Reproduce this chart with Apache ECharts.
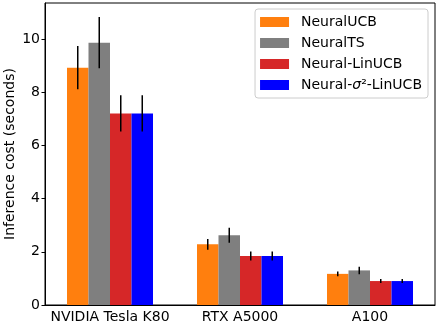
<!DOCTYPE html>
<html>
<head>
<meta charset="utf-8">
<script src="https://cdn.jsdelivr.net/npm/echarts@6/dist/echarts.min.js"></script>
<style>
  html, body { margin: 0; padding: 0; background: #fff; }
  #main { width: 439px; height: 329px; }
</style>
</head>
<body>
<div id="main"></div>
<script>
// data
var gpus = ['NVIDIA Tesla K80', 'RTX A5000', 'A100'];
var methods = ['NeuralUCB', 'NeuralTS', 'Neural-LinUCB', 'Neural-σ²-LinUCB'];
var colors = ['#ff7f0e', '#7f7f7f', '#d62728', '#0000ff'];

var neuralUCB = [8.92, 2.28, 1.17];
var neuralTS = [9.86, 2.62, 1.30];
var neuralLinUCB = [7.20, 1.84, 0.90];
var neuralSigmaLinUCB = [7.20, 1.84, 0.90];

var errUCB = [0.81, 0.20, 0.09];
var errTS = [0.96, 0.28, 0.14];
var errLinUCB = [0.68, 0.17, 0.075];
var errSigmaLinUCB = [0.68, 0.17, 0.075];

var yTicks = [0, 2, 4, 6, 8, 10];

var means = [neuralUCB, neuralTS, neuralLinUCB, neuralSigmaLinUCB];
var errs = [errUCB, errTS, errLinUCB, errSigmaLinUCB];

var myChart = echarts.init(document.getElementById('main'));
var barW = 21.5;
var font = 'DejaVu Sans';
var fs = 14;

var series = [];
methods.forEach(function (m, i) {
    series.push({
        name: m,
        type: 'bar',
        data: means[i],
        barWidth: barW,
        barGap: '0%',
        itemStyle: { color: colors[i] },
        z: 2
    });
});
// error bars, one custom series per method, drawn over the centre of each bar
methods.forEach(function (m, i) {
    var d = gpus.map(function (g, k) {
        return [k, means[i][k] - errs[i][k], means[i][k] + errs[i][k]];
    });
    series.push({
        type: 'custom',
        data: d,
        z: 5,
        silent: true,
        renderItem: function (params, api) {
            var lo = api.coord([api.value(0), api.value(1)]);
            var hi = api.coord([api.value(0), api.value(2)]);
            var off = (i - 1.5) * barW;
            return {
                type: 'line',
                shape: { x1: lo[0] + off, y1: lo[1], x2: hi[0] + off, y2: hi[1] },
                style: { stroke: '#000', lineWidth: 1.5 }
            };
        }
    });
});

option = {
    animation: false,
    textStyle: { fontFamily: font },
    grid: {
        left: 45, right: 4, top: 3, bottom: 24,
        containLabel: false,
        outerBoundsMode: 'none',
        show: true, borderColor: '#000', borderWidth: 1
    },
    legend: {
        data: methods,
        orient: 'vertical',
        right: 11, top: 9,
        icon: 'rect',
        itemWidth: 29, itemHeight: 10,
        itemGap: 7,
        padding: [6, 6, 6, 5],
        backgroundColor: '#fff',
        borderColor: '#ccc', borderWidth: 1, borderRadius: 3,
        textStyle: {
            fontFamily: font, fontSize: fs, color: '#000', padding: [0, 0, 0, 7],
            rich: { i: { fontFamily: font, fontSize: fs, fontStyle: 'italic', color: '#000' } }
        },
        formatter: function (name) {
            if (name === 'Neural-σ²-LinUCB') return 'Neural-{i|σ}²-LinUCB';
            return name;
        }
    },
    xAxis: {
        type: 'category',
        data: gpus,
        axisLine: { lineStyle: { color: '#000', width: 1 } },
        axisTick: { alignWithLabel: true, length: 3.5, inside: false, lineStyle: { color: '#000' } },
        axisLabel: { fontFamily: font, fontSize: fs, color: '#000', margin: 5, interval: 0 },
        splitLine: { show: false }
    },
    yAxis: {
        type: 'value',
        min: 0,
        max: 11.35,
        interval: 2,
        name: 'Inference cost (seconds)',
        nameLocation: 'middle',
        nameGap: 28,
        nameMoveOverlap: false,
        nameTextStyle: { fontFamily: font, fontSize: fs, color: '#000' },
        axisLine: { show: true, lineStyle: { color: '#000', width: 1 } },
        axisTick: { show: true, length: 3.5, lineStyle: { color: '#000' } },
        axisLabel: {
            fontFamily: font, fontSize: fs, color: '#000', margin: 5,
            showMaxLabel: false,
            formatter: function (v) { return yTicks.indexOf(v) >= 0 ? String(v) : ''; }
        },
        splitLine: { show: false }
    },
    series: series
};

myChart.setOption(option);
window.onresize = myChart.resize;
</script>
</body>
</html>
